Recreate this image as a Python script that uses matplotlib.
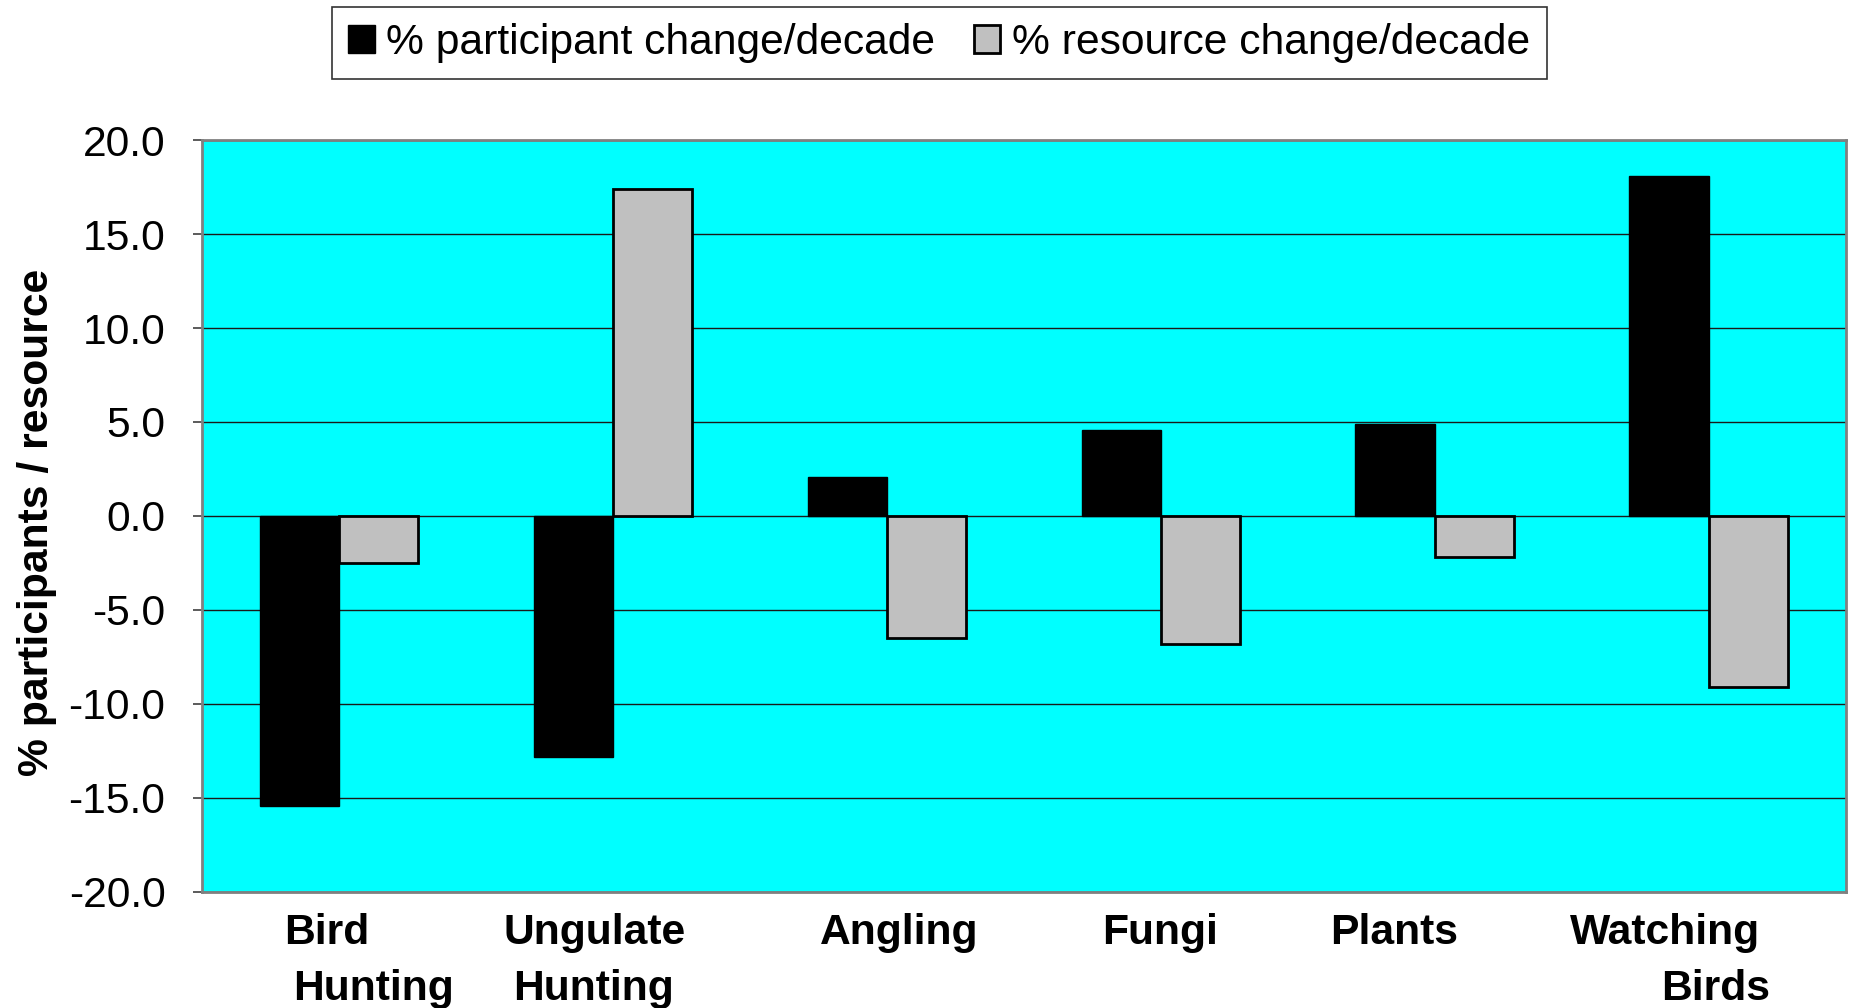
import matplotlib
matplotlib.use("Agg")
import matplotlib.pyplot as plt
import matplotlib.transforms as mtransforms
from matplotlib.patches import Patch
import numpy as np

plt.rcParams['font.family'] = ['Liberation Sans', 'DejaVu Sans']
plt.rcParams['axes.unicode_minus'] = False

# ---- data ----
categories = [("Bird", "Hunting"), ("Ungulate", "Hunting"), ("Angling", ""),
              ("Fungi", ""), ("Plants", ""), ("Watching", "Birds")]
participant_change = [-15.4, -12.8, 2.1, 4.6, 4.9, 18.1]
resource_change = [-2.5, 17.4, -6.5, -6.8, -2.2, -9.1]
series_names = ["% participant change/decade", "% resource change/decade"]
yticks = [-20, -15, -10, -5, 0, 5, 10, 15, 20]
ylabel = "% participants / resource"

# label offsets (pixels) to mimic the original's label placement
line1_dx = [-12, -18, 12, -1, -41, -44]
line2_dx = [34, -19, 0, 0, 0, 7]

FS = 30.7
fig = plt.figure(figsize=(18.5, 10.08), dpi=100)
ax = fig.add_axes([0.1092, 0.1151, 0.8886, 0.7460])
ax.set_facecolor('#00FFFF')

x = np.arange(len(categories))
w = 0.29
ax.bar(x - w / 2, participant_change, width=w, color='black', edgecolor='black',
       linewidth=1.0, zorder=3)
ax.bar(x + w / 2, resource_change, width=w, color='#C0C0C0', edgecolor='black',
       linewidth=2.0, zorder=3)

ax.set_xlim(-0.5, len(categories) - 0.5)
ax.set_ylim(-20, 20)
ax.set_yticks(yticks)
ax.set_yticklabels([f"{v:.1f}" for v in yticks], fontsize=FS)
ax.tick_params(axis='y', length=6.8, width=1.2, pad=19.5, color='#404040')
ax.set_xticks([])
ax.yaxis.grid(True, color='#1a1a1a', linewidth=1.0, zorder=1)
ax.set_axisbelow(True)
for s in ax.spines.values():
    s.set_color('#808080')
    s.set_linewidth(2.0)

ax.set_ylabel(ylabel, fontsize=FS, fontweight='bold', va='center')
ax.yaxis.set_label_coords(-0.1005, 0.491)

# category labels (two lines)
base = mtransforms.blended_transform_factory(ax.transData, ax.transAxes)
for i, (l1, l2) in enumerate(categories):
    t1 = base + mtransforms.ScaledTranslation(line1_dx[i] / 100, -52 / 100, fig.dpi_scale_trans)
    ax.text(i, 0, l1, transform=t1, ha='center', va='baseline', fontsize=FS,
            fontweight='bold', clip_on=False)
    if l2:
        t2 = base + mtransforms.ScaledTranslation(line2_dx[i] / 100, -108 / 100, fig.dpi_scale_trans)
        ax.text(i, 0, l2, transform=t2, ha='center', va='baseline', fontsize=FS,
                fontweight='bold', clip_on=False)

handles = [Patch(facecolor='black', edgecolor='black', linewidth=1.0),
           Patch(facecolor='#C0C0C0', edgecolor='black', linewidth=2.0)]
leg = fig.legend(handles, series_names, loc='upper center', bbox_to_anchor=(0.5077, 0.993),
                 ncol=2, fontsize=FS, frameon=True, fancybox=False, shadow=False,
                 handlelength=0.62, handleheight=0.62, handletextpad=0.28,
                 columnspacing=0.9, borderpad=0.38, borderaxespad=0)
leg.get_frame().set_edgecolor('black')
leg.get_frame().set_linewidth(1.2)
leg.get_frame().set_facecolor('white')

fig.savefig("out.png", dpi=100)
